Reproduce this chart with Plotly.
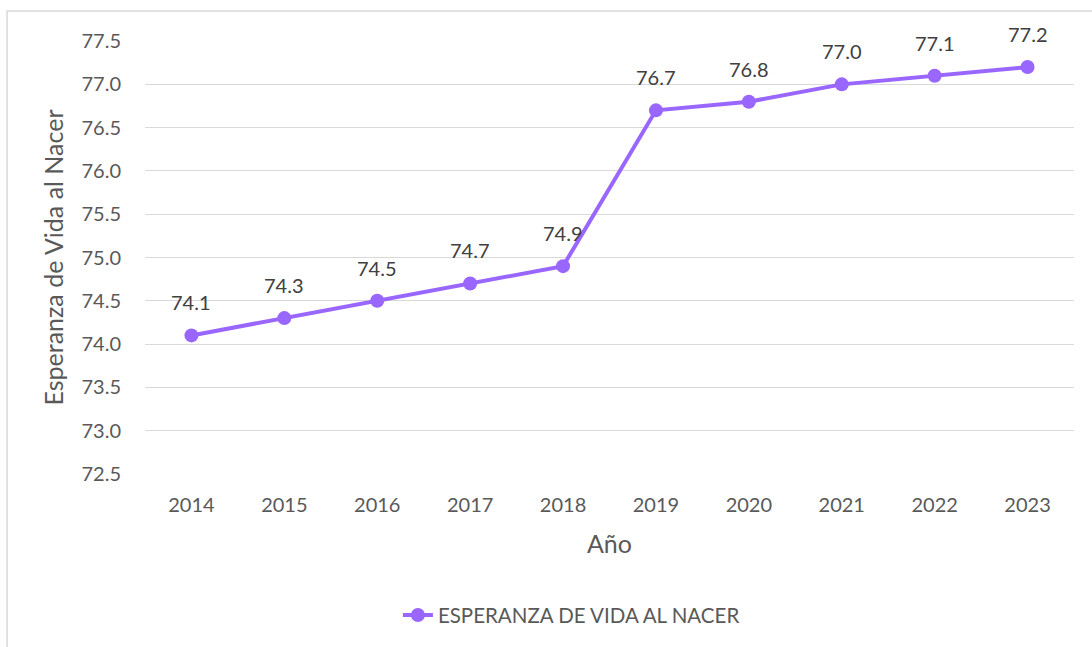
import plotly.graph_objects as go

years = ["2014", "2015", "2016", "2017", "2018", "2019", "2020", "2021", "2022", "2023"]
esperanza = [74.1, 74.3, 74.5, 74.7, 74.9, 76.7, 76.8, 77.0, 77.1, 77.2]
series_name = "ESPERANZA DE VIDA AL NACER"
y_ticks = [72.5, 73.0, 73.5, 74.0, 74.5, 75.0, 75.5, 76.0, 76.5, 77.0, 77.5]

FONT = "Lato"
TXT = "#595959"
LINE = "#9966FF"

fig = go.Figure()
fig.add_trace(go.Scatter(
    x=years, y=esperanza, mode="lines+markers", name=series_name,
    line=dict(color=LINE, width=4),
    marker=dict(color=LINE, size=14),
))

for i, v in enumerate(esperanza):
    fig.add_annotation(x=i, y=v, xref="x", yref="y", text=f"{v:.1f}", showarrow=False,
                       yshift=33, font=dict(family=FONT, size=20, color="#404040"))

fig.add_shape(type="rect", xref="paper", yref="paper",
              x0=-0.1485, x1=1.03, y0=-0.45, y1=1.0693,
              line=dict(color="#D9D9D9", width=1.5), fillcolor="rgba(0,0,0,0)", layer="below")

fig.update_layout(
    width=1092, height=647,
    margin=dict(l=145, r=18, t=41, b=173),
    paper_bgcolor="white", plot_bgcolor="white",
    font=dict(family=FONT, size=20, color=TXT),
    showlegend=True,
    legend=dict(orientation="h", x=0.459, xanchor="center", y=-0.326, yanchor="middle",
                font=dict(family=FONT, size=20.5, color=TXT)),
    xaxis=dict(type="category", range=[-0.5, 9.5], showgrid=False, showline=False,
               zeroline=False, ticks="", ticklabelstandoff=17,
               title=dict(text="Año", standoff=20, font=dict(family=FONT, size=25, color=TXT))),
    yaxis=dict(range=[72.499, 77.501], tickvals=y_ticks, ticktext=[f"{t:.1f}" for t in y_ticks],
               showgrid=True, gridcolor="#D9D9D9", gridwidth=1.3, zeroline=False, showline=False,
               ticks="", ticklabelstandoff=23,
               title=dict(text="Esperanza de Vida al Nacer", standoff=10,
                          font=dict(family=FONT, size=25, color=TXT))),
)

fig.write_html("out.html", config={"displayModeBar": False},
               post_script="document.body.style.margin='0';")
